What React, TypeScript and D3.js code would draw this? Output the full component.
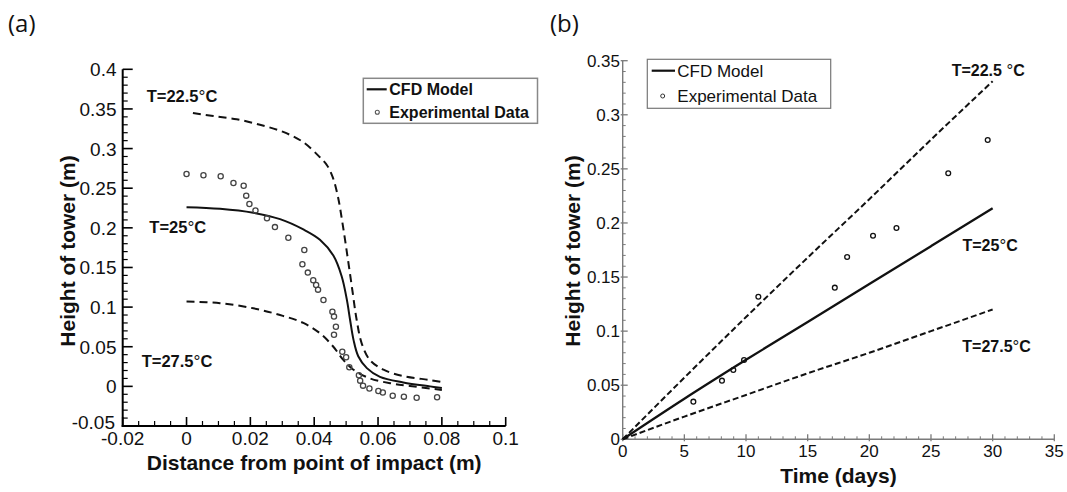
import React from 'react';
import * as d3 from 'd3';

// ---------- Panel (a) data ----------
const aCfdX = [0, 0.0105, 0.0209, 0.0293, 0.0366, 0.0418, 0.046, 0.0486, 0.0502, 0.0512, 0.0523, 0.0538, 0.0565, 0.0606, 0.0679, 0.0763, 0.08];
const aCfdY = [0.226, 0.224, 0.219, 0.211, 0.198, 0.185, 0.165, 0.139, 0.110, 0.085, 0.059, 0.038, 0.023, 0.012, 0.005, 0.0, -0.002];
const aHighX = [0.002, 0.0084, 0.0157, 0.023, 0.0303, 0.0366, 0.0418, 0.044, 0.0458, 0.0474, 0.0489, 0.0505, 0.052, 0.0533, 0.0549, 0.0575, 0.0617, 0.0679, 0.0763, 0.08];
const aHighY = [0.345, 0.341, 0.337, 0.330, 0.321, 0.308, 0.289, 0.279, 0.264, 0.240, 0.205, 0.162, 0.120, 0.084, 0.054, 0.033, 0.021, 0.013, 0.008, 0.0055];
const aLowX = [0, 0.0105, 0.0209, 0.0293, 0.0366, 0.0418, 0.046, 0.0492, 0.0523, 0.0575, 0.0638, 0.07, 0.08];
const aLowY = [0.107, 0.105, 0.0985, 0.090, 0.080, 0.067, 0.050, 0.033, 0.021, 0.010, 0.004, 0.0005, -0.0045];
const aExpX = [0, 0.0053, 0.0107, 0.0147, 0.0179, 0.0187, 0.0197, 0.0216, 0.0252, 0.0277, 0.0319, 0.0369, 0.0363, 0.038, 0.0397, 0.0406, 0.0412, 0.0429, 0.0457, 0.0462, 0.0468, 0.0462, 0.0488, 0.05, 0.051, 0.054, 0.0544, 0.0553, 0.0573, 0.0601, 0.0615, 0.0646, 0.0681, 0.0721, 0.0785];
const aExpY = [0.268, 0.2663, 0.2651, 0.2566, 0.2531, 0.2406, 0.2301, 0.2219, 0.2121, 0.2009, 0.1875, 0.1721, 0.154, 0.1435, 0.1339, 0.1279, 0.122, 0.109, 0.0942, 0.0882, 0.0753, 0.0652, 0.0437, 0.0367, 0.0242, 0.014, 0.0072, 0.0009, -0.0026, -0.0058, -0.0077, -0.0119, -0.013, -0.0143, -0.0138];
const aXTicks = [-0.02, 0, 0.02, 0.04, 0.06, 0.08, 0.1];
const aXTickLabels = ['-0.02', '0', '0.02', '0.04', '0.06', '0.08', '0.1'];
const aYTicks = [-0.05, 0, 0.05, 0.1, 0.15, 0.2, 0.25, 0.3, 0.35, 0.4];
const aYTickLabels = ['-0.05', '0', '0.05', '0.1', '0.15', '0.2', '0.25', '0.3', '0.35', '0.4'];

// ---------- Panel (b) data ----------
const bDays = [0, 5, 10, 15, 20, 25, 30];
const bCfd = [0, 0.0375, 0.0735, 0.1085, 0.1435, 0.1785, 0.2135];
const bHigh = [0, 0.057, 0.113, 0.168, 0.222, 0.277, 0.331];
const bLow = [0, 0.021, 0.041, 0.061, 0.080, 0.100, 0.120];
const bExpDays = [5.73, 8.05, 8.97, 9.84, 11.0, 17.2, 18.2, 20.3, 22.2, 26.4, 29.6];
const bExpH = [0.0348, 0.0542, 0.0641, 0.0733, 0.1318, 0.1402, 0.1685, 0.1882, 0.1953, 0.246, 0.2767];
const bXTicks = [0, 5, 10, 15, 20, 25, 30, 35];
const bXTickLabels = ['0', '5', '10', '15', '20', '25', '30', '35'];
const bYTicks = [0, 0.05, 0.1, 0.15, 0.2, 0.25, 0.3, 0.35];
const bYTickLabels = ['0', '0.05', '0.1', '0.15', '0.2', '0.25', '0.3', '0.35'];

const FONT = "'Liberation Sans', Arial, Helvetica, sans-serif";

const zip = (xs: number[], ys: number[]) => xs.map((x, i) => [x, ys[i]] as [number, number]);

function minorTicks(lo: number, hi: number, step: number, majors: number[]) {
  const n = Math.round((hi - lo) / step);
  const out: number[] = [];
  for (let i = 0; i <= n; i++) {
    const v = lo + i * step;
    if (!majors.some((m) => Math.abs(m - v) < step / 10)) out.push(v);
  }
  return out;
}

function Deg({ label, space }: { label: string; space?: boolean }) {
  return (
    <>
      {label}
      {space ? ' ' : ''}
      <tspan fontWeight="normal" fontSize="1.05em">°</tspan>C
    </>
  );
}

function PanelA() {
  const x = d3.scaleLinear().domain([-0.02, 0.1]).range([122.7, 505.7]);
  const y = d3.scaleLinear().domain([-0.05, 0.4]).range([426, 69.3]);
  const line = d3.line<[number, number]>().x((d) => x(d[0])).y((d) => y(d[1])).curve(d3.curveCatmullRom.alpha(0.5));
  const xMin = minorTicks(-0.02, 0.1, 0.005, aXTicks);
  const yMin = minorTicks(-0.05, 0.4, 0.01, aYTicks);
  const x0 = x(-0.02);
  const y0 = y(-0.05);
  return (
    <g fontFamily={FONT}>
      {/* axes */}
      <line x1={x0} x2={x0} y1={y(0.4)} y2={y0 + 1} stroke="#000" strokeWidth={2} />
      <line x1={x0 - 1} x2={x(0.1)} y1={y0} y2={y0} stroke="#000" strokeWidth={2} />
      {aXTicks.map((t) => (
        <line key={'ax' + t} x1={x(t)} x2={x(t)} y1={y0} y2={y0 - 9} stroke="#000" strokeWidth={1.6} />
      ))}
      {xMin.map((t) => (
        <line key={'axm' + t} x1={x(t)} x2={x(t)} y1={y0} y2={y0 - 5} stroke="#000" strokeWidth={1.2} />
      ))}
      {aYTicks.map((t) => (
        <line key={'ay' + t} x1={x0} x2={x0 + 10} y1={y(t)} y2={y(t)} stroke="#000" strokeWidth={1.6} />
      ))}
      {yMin.map((t) => (
        <line key={'aym' + t} x1={x0} x2={x0 + 5} y1={y(t)} y2={y(t)} stroke="#000" strokeWidth={1.2} />
      ))}
      {aXTicks.map((t, i) => (
        <text key={'axl' + t} x={x(t)} y={445} fontSize={19} textAnchor="middle" fill="#111">{aXTickLabels[i]}</text>
      ))}
      {aYTicks.map((t, i) => (
        <text key={'ayl' + t} x={t === -0.05 ? 115 : 116.5} y={y(t) + (t === -0.05 ? 3 : 7)} fontSize={19} textAnchor="end" fill="#111">{aYTickLabels[i]}</text>
      ))}
      {/* titles */}
      <text x={314.2} y={469.5} fontSize={21} fontWeight="bold" textAnchor="middle" fill="#111">Distance from point of impact (m)</text>
      <text transform="translate(75,251) rotate(-90)" fontSize={21} fontWeight="bold" textAnchor="middle" fill="#111">Height of tower (m)</text>
      {/* curves */}
      <path d={line(zip(aHighX, aHighY)) || ''} fill="none" stroke="#111" strokeWidth={2} strokeDasharray="8,5" />
      <path d={line(zip(aLowX, aLowY)) || ''} fill="none" stroke="#111" strokeWidth={2} strokeDasharray="8,5" />
      <path d={line(zip(aCfdX, aCfdY)) || ''} fill="none" stroke="#111" strokeWidth={2} />
      {aExpX.map((v, i) => (
        <circle key={'ae' + i} cx={x(v)} cy={y(aExpY[i])} r={2.6} fill="none" stroke="#444" strokeWidth={1.3} />
      ))}
      {/* annotations */}
      <text x={146.7} y={101.7} fontSize={16.5} fontWeight="bold" fill="#111"><Deg label="T=22.5" /></text>
      <text x={149.3} y={232.7} fontSize={16.5} fontWeight="bold" fill="#111"><Deg label="T=25" /></text>
      <text x={141.7} y={366.7} fontSize={16.5} fontWeight="bold" fill="#111"><Deg label="T=27.5" /></text>
      {/* legend */}
      <rect x={363.3} y={78.3} width={174.2} height={45} fill="#fff" stroke="#888" strokeWidth={1.5} />
      <line x1={366.7} x2={386.7} y1={89.3} y2={89.3} stroke="#111" strokeWidth={2.2} />
      <text x={389.3} y={95} fontSize={16} fontWeight="bold" fill="#111">CFD Model</text>
      <circle cx={377.3} cy={112.3} r={2} fill="none" stroke="#555" strokeWidth={1.1} />
      <text x={389.3} y={118} fontSize={16} fontWeight="bold" fill="#111">Experimental Data</text>
    </g>
  );
}

function PanelB() {
  const x = d3.scaleLinear().domain([0, 35]).range([622.7, 1054.3]);
  const y = d3.scaleLinear().domain([0, 0.35]).range([439.3, 60.7]);
  const line = d3.line<[number, number]>().x((d) => x(d[0])).y((d) => y(d[1])).curve(d3.curveMonotoneX);
  const xMin = minorTicks(0, 35, 1, bXTicks);
  const yMin = minorTicks(0, 0.35, 0.01, bYTicks);
  const x0 = x(0);
  const y0 = y(0);
  const axisC = '#7a7a7a';
  return (
    <g fontFamily={FONT}>
      <line x1={x0} x2={x0} y1={y(0.35)} y2={y0} stroke={axisC} strokeWidth={1.4} />
      <line x1={x0} x2={x(35)} y1={y0} y2={y0} stroke={axisC} strokeWidth={1.4} />
      {bXTicks.map((t) => (
        <line key={'bx' + t} x1={x(t)} x2={x(t)} y1={y0 + 2} y2={y0 - 5} stroke={axisC} strokeWidth={1.3} />
      ))}
      {xMin.map((t) => (
        <line key={'bxm' + t} x1={x(t)} x2={x(t)} y1={y0} y2={y0 - 3} stroke={axisC} strokeWidth={1} />
      ))}
      {bYTicks.map((t) => (
        <line key={'by' + t} x1={x0 - 2} x2={x0 + 5} y1={y(t)} y2={y(t)} stroke={axisC} strokeWidth={1.3} />
      ))}
      {yMin.map((t) => (
        <line key={'bym' + t} x1={x0} x2={x0 + 3} y1={y(t)} y2={y(t)} stroke={axisC} strokeWidth={1} />
      ))}
      {bXTicks.map((t, i) => (
        <text key={'bxl' + t} x={x(t)} y={456.5} fontSize={17} textAnchor="middle" fill="#111">{bXTickLabels[i]}</text>
      ))}
      {bYTicks.map((t, i) => (
        <text key={'byl' + t} x={620} y={y(t) + 6} fontSize={17} textAnchor="end" fill="#111">{bYTickLabels[i]}</text>
      ))}
      <text x={838.5} y={483} fontSize={21} fontWeight="bold" textAnchor="middle" fill="#111">Time (days)</text>
      <text transform="translate(580,251) rotate(-90)" fontSize={21} fontWeight="bold" textAnchor="middle" fill="#111">Height of tower (m)</text>
      <path d={line(zip(bDays, bHigh)) || ''} fill="none" stroke="#111" strokeWidth={2} strokeDasharray="6,3" />
      <path d={line(zip(bDays, bLow)) || ''} fill="none" stroke="#111" strokeWidth={2} strokeDasharray="6,3" />
      <path d={line(zip(bDays, bCfd)) || ''} fill="none" stroke="#111" strokeWidth={2.3} />
      {bExpDays.map((v, i) => (
        <circle key={'be' + i} cx={x(v)} cy={y(bExpH[i])} r={2.4} fill="none" stroke="#111" strokeWidth={1.3} />
      ))}
      <text x={951.7} y={75.5} fontSize={16} fontWeight="bold" fill="#111"><Deg label="T=22.5" space /></text>
      <text x={962.5} y={250.5} fontSize={16} fontWeight="bold" fill="#111"><Deg label="T=25" /></text>
      <text x={962.3} y={351.7} fontSize={16} fontWeight="bold" fill="#111"><Deg label="T=27.5" /></text>
      <rect x={647.3} y={59.3} width={183.4} height={49} fill="#fff" stroke="#777" strokeWidth={1.2} />
      <line x1={651.7} x2={675} y1={70.7} y2={70.7} stroke="#111" strokeWidth={2.2} />
      <text x={677.3} y={76.7} fontSize={17} fill="#111">CFD Model</text>
      <circle cx={662.7} cy={96} r={2} fill="none" stroke="#333" strokeWidth={1} />
      <text x={677.3} y={102} fontSize={17} fill="#111">Experimental Data</text>
    </g>
  );
}

export default function App() {
  return (
    <svg
      width={1067}
      height={492}
      viewBox="0 0 1067 492"
      style={{ position: 'absolute', left: 0, top: 0, background: '#fff' }}
    >
      <rect x={0} y={0} width={1067} height={492} fill="#fff" />
      <text x={8} y={32} fontSize={24} fontFamily="'Open Sans', 'Liberation Sans', sans-serif" fill="#111">(a)</text>
      <text x={550} y={32} fontSize={24} fontFamily="'Open Sans', 'Liberation Sans', sans-serif" fill="#111">(b)</text>
      <PanelA />
      <PanelB />
    </svg>
  );
}
